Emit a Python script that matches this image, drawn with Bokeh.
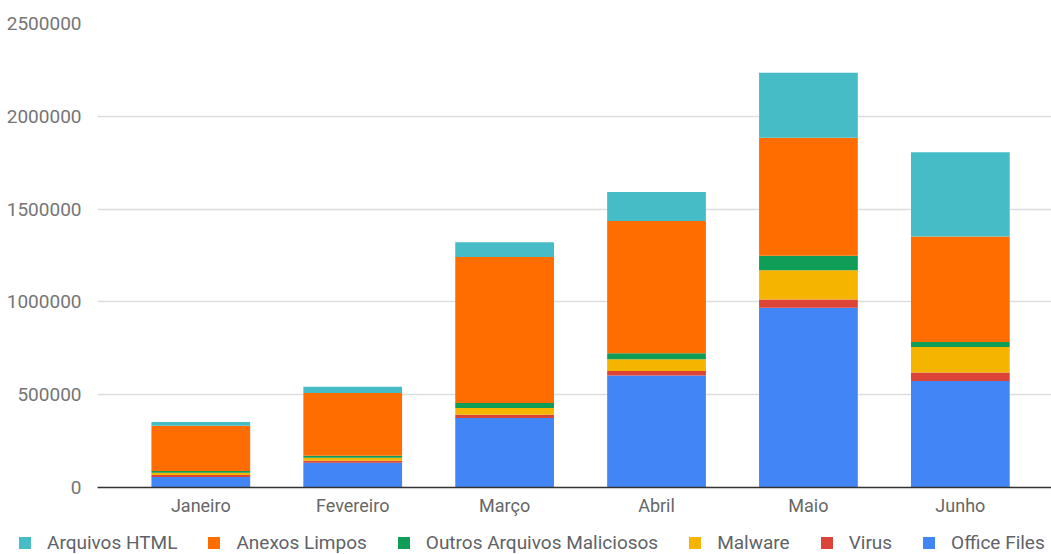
from bokeh.plotting import figure
from bokeh.layouts import column, row
from bokeh.models import Range1d, FixedTicker, Legend, LegendItem, NumeralTickFormatter
from bokeh.embed import file_html
from bokeh.resources import INLINE

months = ["Janeiro", "Fevereiro", "Março", "Abril", "Maio", "Junho"]
series_names = ["Office Files", "Virus", "Malware", "Outros Arquivos Maliciosos", "Anexos Limpos", "Arquivos HTML"]
office_files = [56000, 133000, 374000, 603000, 968000, 574000]
virus = [12000, 11000, 18000, 25000, 45000, 45000]
malware = [12000, 16000, 36000, 63000, 158000, 138000]
outros = [9000, 11000, 27000, 32000, 77000, 27000]
anexos_limpos = [244000, 338000, 787000, 713000, 636000, 569000]
arquivos_html = [20000, 34000, 79000, 156000, 350000, 453000]
y_ticks = [0, 500000, 1000000, 1500000, 2000000, 2500000]
colors = ["#4285F4", "#DB4437", "#F4B400", "#0F9D58", "#FF6D01", "#46BDC6"]

series = [office_files, virus, malware, outros, anexos_limpos, arquivos_html]

FONT = "Roboto"

p = figure(width=1051, height=525, output_backend="svg", toolbar_location=None,
           x_range=Range1d(-0.68, 5.6), y_range=Range1d(0, 2500000),
           min_border_left=97, min_border_right=0, min_border_top=23, min_border_bottom=38)
p.outline_line_color = None
p.background_fill_color = "white"

xs = list(range(len(months)))
bottoms = [0] * len(months)
for vals, col in zip(series, colors):
    tops = [b + v for b, v in zip(bottoms, vals)]
    p.vbar(x=xs, width=0.65, bottom=bottoms, top=tops, fill_color=col, line_color=None)
    bottoms = tops

p.xaxis.ticker = FixedTicker(ticks=xs)
p.xaxis.major_label_overrides = {i: m for i, m in enumerate(months)}
p.xaxis.major_tick_line_color = None
p.xaxis.minor_tick_line_color = None
p.xaxis.axis_line_color = "#333333"
p.xaxis.axis_line_width = 1.5
p.xaxis.major_label_text_font = FONT
p.xaxis.major_label_text_font_size = "18px"
p.xaxis.major_label_text_color = "#666666"
p.xaxis.major_label_standoff = 1
p.xgrid.grid_line_color = None

p.yaxis.ticker = FixedTicker(ticks=y_ticks)
p.yaxis.formatter = NumeralTickFormatter(format="0")
p.yaxis.major_tick_line_color = None
p.yaxis.minor_tick_line_color = None
p.yaxis.axis_line_color = None
p.yaxis.major_label_text_font = FONT
p.yaxis.major_label_text_font_size = "19px"
p.yaxis.major_label_text_color = "#757575"
p.yaxis.major_label_standoff = 10
p.ygrid.grid_line_color = "#dddddd"
p.ygrid.grid_line_width = 1.5

# legend strip
lg = figure(width=1051, height=29, output_backend="svg", toolbar_location=None,
            x_range=Range1d(0, 1), y_range=Range1d(0, 1),
            min_border_left=0, min_border_right=0, min_border_top=0, min_border_bottom=0)
lg.outline_line_color = None
lg.axis.visible = False
lg.grid.visible = False
leg_renderers = []
for name, col in zip(series_names, colors):
    r = lg.vbar(x=[0], bottom=[0], top=[0], width=0.0, fill_color=col, line_color=None)
    leg_renderers.append((name, r))
items = [LegendItem(label=n, renderers=[r]) for n, r in leg_renderers][::-1]
legend = Legend(items=items, orientation="horizontal", location=(17, 0),
                label_text_font=FONT, label_text_font_size="19px", label_text_color="#5f6368",
                glyph_width=15, glyph_height=15, label_standoff=15, spacing=29,
                padding=0, margin=0, border_line_color=None, background_fill_alpha=0)
lg.add_layout(legend, "center")

layout = column(p, row(lg), spacing=0)
open("out.html", "w").write(file_html(layout, INLINE))
